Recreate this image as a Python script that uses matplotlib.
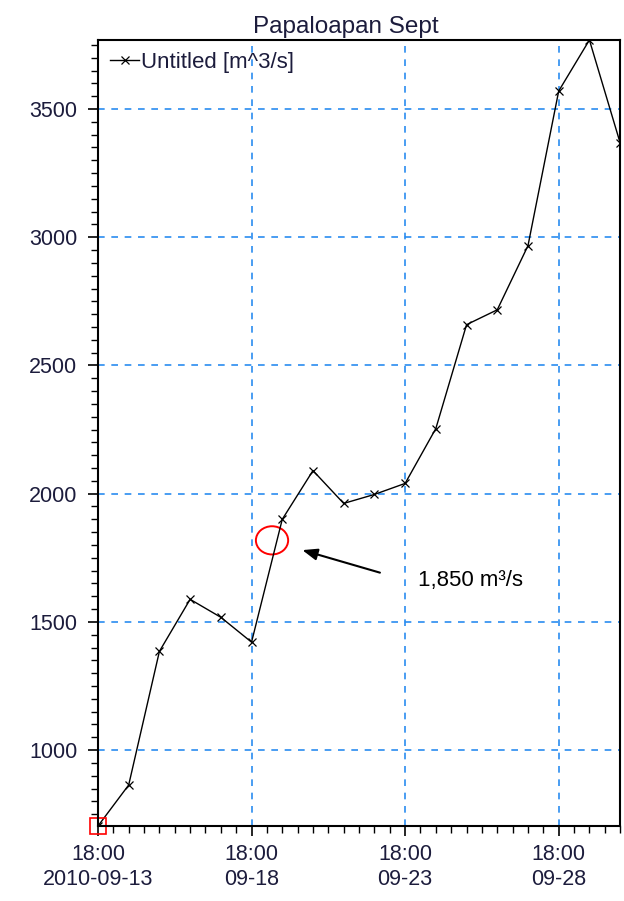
import matplotlib
matplotlib.use("Agg")
import matplotlib.pyplot as plt
import matplotlib.dates as mdates
import numpy as np
from matplotlib.patches import Ellipse

plt.rcParams['font.family'] = ['Liberation Sans', 'DejaVu Sans']

# daily readings, 18:00 each day
dates = np.arange(np.datetime64('2010-09-13T18:00'), np.datetime64('2010-10-01T18:00'),
                  np.timedelta64(1, 'D'))
flow = [704, 864, 1385, 1588, 1518, 1421, 1900, 2090, 1962, 1997,
        2040, 2254, 2659, 2717, 2967, 3570, 3769, 3368]
tick_dates = np.arange(np.datetime64('2010-09-13T18:00'), np.datetime64('2010-09-30T18:00'),
                       np.timedelta64(5, 'D'))
tick_labels = ["18:00\n2010-09-13", "18:00\n09-18", "18:00\n09-23", "18:00\n09-28"]
y_ticks = [1000, 1500, 2000, 2500, 3000, 3500]

note_date = np.datetime64('2010-09-19T10:00')
note_value = 1818
note_text = "1,850 m³/s"

txt = '#1c1c3c'

fig = plt.figure(figsize=(6.24, 9.01), dpi=100)
ax = fig.add_axes([0.157, 0.0832, 0.8368, 0.8724])

ax.plot(dates.astype('datetime64[m]').astype(object), flow, color='black', lw=1.0,
        marker='x', ms=6, mew=0.9, label='Untitled [m^3/s]')

ax.set_xlim(dates[0].astype(object), dates[-1].astype(object))
ax.set_ylim(min(flow), max(flow))

ax.set_xticks([d.astype(object) for d in tick_dates])
ax.set_xticklabels(tick_labels, linespacing=1.25)
ax.xaxis.set_minor_locator(mdates.HourLocator(byhour=[6, 18]))
ax.set_yticks(y_ticks)
ax.yaxis.set_minor_locator(matplotlib.ticker.MultipleLocator(50))

ax.tick_params(which='major', direction='out', length=7, width=1.2, labelsize=15.5,
               labelcolor=txt)
ax.tick_params(axis='y', which='major', pad=8)
ax.tick_params(axis='x', which='major', pad=6)
ax.tick_params(which='minor', direction='out', length=5, width=1.0)
for s in ax.spines.values():
    s.set_linewidth(1.5)

ax.grid(True, which='major', color='#2a8cf0', linestyle=(0, (4, 4)), linewidth=1.2)
ax.set_title("Papaloapan Sept", fontsize=17.5, color=txt, pad=5, x=0.475)

leg = ax.legend(loc='upper left', frameon=False, fontsize=16, handlelength=1.3,
                handletextpad=0.1, borderaxespad=0.15, labelcolor=txt)

# red marker box at the first point
ax.plot([dates[0].astype(object)], [flow[0]], marker='s', ms=12, mfc='none',
        mec='red', mew=1.2, clip_on=False)

x_note = mdates.date2num(note_date.astype(object))
ax.add_patch(Ellipse((x_note, note_value), 1.05, 110, fill=False, ec='red', lw=1.4))
ax.annotate("", xy=(x_note + 0.9, 1783), xytext=(x_note + 3.6, 1689),
            arrowprops=dict(arrowstyle='-|>,head_length=0.9,head_width=0.35',
                            color='black', lw=1.5))
ax.text(x_note + 4.75, 1662, note_text, fontsize=16, color='black', va='center')

fig.savefig("out.png", dpi=100)
